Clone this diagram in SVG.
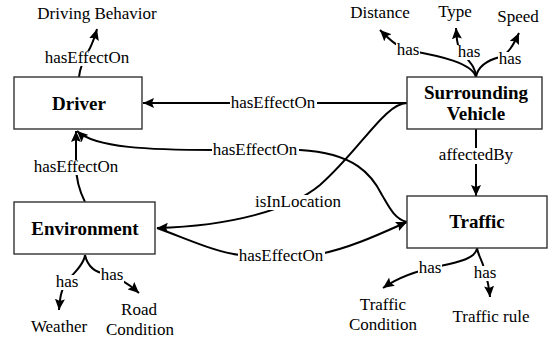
<svg xmlns="http://www.w3.org/2000/svg" width="550" height="341" viewBox="0 0 550 341">
  <style>
    .box { fill: #fff; stroke: #333; stroke-width: 1.4; }
    .name { font-family: "Liberation Serif", "Times New Roman", serif; font-weight: bold; font-size: 19px; text-anchor: middle; fill: #000; }
    .leaf { font-family: "Liberation Serif", "Times New Roman", serif; font-size: 17px; text-anchor: middle; fill: #000; }
    .edge { fill: none; stroke: #000; stroke-width: 2; }
    .arrow { marker-end: url(#head); }
    .lbl { font-family: "Liberation Serif", "Times New Roman", serif; font-size: 17px; text-anchor: middle; fill: #000; }
    .lbg { fill: #fff; }
  </style>
  <defs>
    <marker id="head" markerUnits="userSpaceOnUse" markerWidth="12" markerHeight="10" refX="11" refY="5" orient="auto">
      <path d="M0,0 L11,5 L0,10 L2,5 z" fill="#000"/>
    </marker>
  </defs>
  <rect width="550" height="341" fill="#fff"/>

  <g id="connectors">
    <!-- Driver hasEffectOn Driving Behavior -->
    <path class="edge arrow" d="M79,77 C80,65 86,55 90,48 C93,42 95,36 97,29"/>
    <!-- Surrounding Vehicle hasEffectOn Driver -->
    <path class="edge arrow" d="M407,103 L143,103"/>
    <!-- Traffic hasEffectOn Driver -->
    <path class="edge arrow" d="M407,222 C394,219 388,205 382,195 C372,175 355,153 300,150 L215,150 C150,150 95,148 77,131"/>
    <!-- Environment hasEffectOn Driver -->
    <path class="edge arrow" d="M85,202 C79,190 76,180 76,165 L76,131"/>
    <!-- Surrounding Vehicle isInLocation Environment -->
    <path class="edge arrow" d="M407,103 C385,103 360,150 320,185 C290,210 230,226 157,228"/>
    <!-- Environment hasEffectOn Traffic -->
    <path class="edge arrow" d="M157,228 C190,240 215,252 240,255 L320,254 C350,248 380,234 407,222"/>
    <!-- Surrounding Vehicle affectedBy Traffic -->
    <path class="edge arrow" d="M476,129 L476,196"/>
    <!-- Surrounding Vehicle attributes -->
    <path class="edge arrow" d="M476,77 C472,63 440,56 412,51 C398,48 390,40 380,30"/>
    <path class="edge arrow" d="M476,77 C476,62 458,55 457,40 L456,28"/>
    <path class="edge arrow" d="M476,77 C478,66 488,60 500,57 C508,54 513,46 519,33"/>
    <!-- Environment attributes -->
    <path class="edge arrow" d="M85,255 C84,265 72,275 66,282 C61,290 60,298 59,310"/>
    <path class="edge arrow" d="M85,255 C88,268 96,272 105,274 C118,277 128,283 139,293"/>
    <!-- Traffic attributes -->
    <path class="edge arrow" d="M477,248 C476,258 460,262 440,266 C420,270 400,276 383,288"/>
    <path class="edge arrow" d="M477,248 C478,255 482,260 484,268 C487,278 489,285 490,297"/>

    <!-- edge labels -->
    <rect class="lbg" x="44" y="51" width="87" height="15"/>
    <text class="lbl" x="87" y="63">hasEffectOn</text>
    <rect class="lbg" x="230" y="96" width="87" height="15"/>
    <text class="lbl" x="273" y="108">hasEffectOn</text>
    <rect class="lbg" x="212" y="143" width="87" height="15"/>
    <text class="lbl" x="255" y="155">hasEffectOn</text>
    <rect class="lbg" x="33" y="160" width="87" height="15"/>
    <text class="lbl" x="76" y="172">hasEffectOn</text>
    <rect class="lbg" x="255" y="195" width="87" height="15"/>
    <text class="lbl" x="298" y="207">isInLocation</text>
    <rect class="lbg" x="238" y="249" width="87" height="15"/>
    <text class="lbl" x="281" y="261">hasEffectOn</text>
    <rect class="lbg" x="438" y="148" width="76" height="16"/>
    <text class="lbl" x="476" y="160">affectedBy</text>
    <rect class="lbg" x="396" y="43" width="24" height="15"/>
    <text class="lbl" x="408" y="55">has</text>
    <rect class="lbg" x="457" y="45" width="24" height="15"/>
    <text class="lbl" x="469" y="57">has</text>
    <rect class="lbg" x="498" y="52" width="24" height="15"/>
    <text class="lbl" x="510" y="64">has</text>
    <rect class="lbg" x="55" y="275" width="24" height="15"/>
    <text class="lbl" x="67" y="287">has</text>
    <rect class="lbg" x="100" y="268" width="24" height="15"/>
    <text class="lbl" x="112" y="280">has</text>
    <rect class="lbg" x="418" y="261" width="24" height="15"/>
    <text class="lbl" x="430" y="273">has</text>
    <rect class="lbg" x="473" y="266" width="24" height="15"/>
    <text class="lbl" x="485" y="278">has</text>
  </g>

  <g id="driver">
    <rect class="box" x="14" y="77" width="128" height="52"/>
    <text class="name" x="79" y="110">Driver</text>
  </g>
  <g id="surrounding-vehicle">
    <rect class="box" x="407" y="77" width="135" height="52"/>
    <text class="name" x="476" y="99">Surrounding</text>
    <text class="name" x="476" y="120">Vehicle</text>
  </g>
  <g id="environment">
    <rect class="box" x="14" y="202" width="141" height="52"/>
    <text class="name" x="85" y="235">Environment</text>
  </g>
  <g id="traffic">
    <rect class="box" x="407" y="196" width="140" height="52"/>
    <text class="name" x="477" y="228">Traffic</text>
  </g>

  <g id="driving-behavior">
    <text class="leaf" x="97" y="19">Driving Behavior</text>
  </g>
  <g id="distance">
    <text class="leaf" x="380" y="18">Distance</text>
  </g>
  <g id="type">
    <text class="leaf" x="455" y="17">Type</text>
  </g>
  <g id="speed">
    <text class="leaf" x="518" y="22">Speed</text>
  </g>
  <g id="weather">
    <text class="leaf" x="59" y="332">Weather</text>
  </g>
  <g id="road-condition">
    <text class="leaf" x="139" y="315">Road</text>
    <text class="leaf" x="140" y="335">Condition</text>
  </g>
  <g id="traffic-condition">
    <text class="leaf" x="383" y="310">Traffic</text>
    <text class="leaf" x="383" y="330">Condition</text>
  </g>
  <g id="traffic-rule">
    <text class="leaf" x="491" y="322">Traffic rule</text>
  </g>
</svg>
